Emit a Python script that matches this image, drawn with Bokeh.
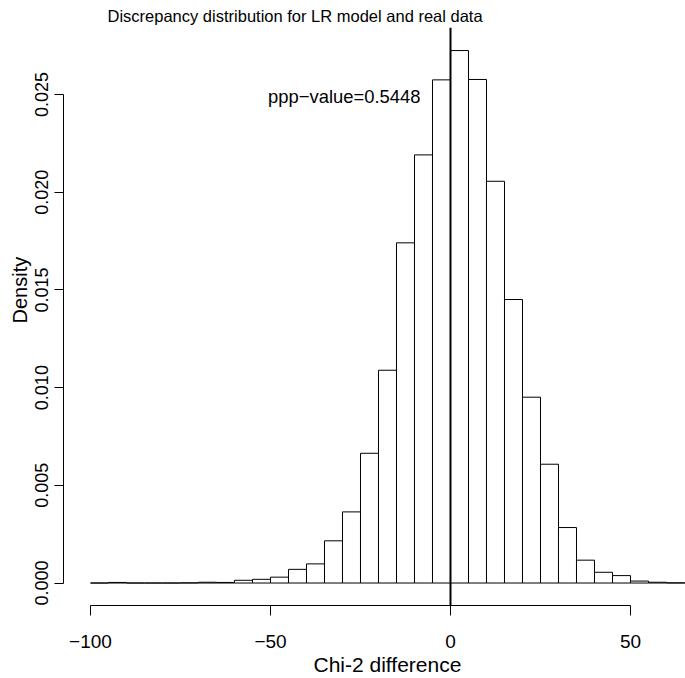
from bokeh.plotting import figure
from bokeh.models import Range1d, FixedTicker, Span, Label, Title, ColumnDataSource
from bokeh.embed import file_html
from bokeh.resources import INLINE

# Histogram bins (width 5) and density heights
bin_left = [-100, -95, -90, -85, -80, -75, -70, -65, -60, -55, -50, -45, -40, -35,
            -30, -25, -20, -15, -10, -5, 0, 5, 10, 15, 20, 25, 30, 35, 40, 45,
            50, 55, 60, 65]
density = [0.0, 0.00003, 0.0, 0.0, 0.0, 0.00001, 0.00004, 0.00003, 0.00014, 0.00019,
           0.00030, 0.00070, 0.00098, 0.00216, 0.00364, 0.00664, 0.01089, 0.01741,
           0.02191, 0.02575, 0.02725, 0.02577, 0.02056, 0.01451, 0.00951, 0.00608,
           0.00284, 0.00117, 0.00055, 0.00038, 0.00010, 0.00004, 0.00001, 0.0]
bin_width = 5

x_ticks = [-100, -50, 0, 50]
x_tick_labels = ["\u2212100", "\u221250", "0", "50"]
y_ticks = [0.0, 0.005, 0.010, 0.015, 0.020, 0.025]
y_tick_labels = ["0.000", "0.005", "0.010", "0.015", "0.020", "0.025"]

title_text = "Discrepancy distribution for LR model and real data"
x_label = "Chi-2 difference"
y_label = "Density"
ppp_text = "ppp\u2212value=0.5448"
vline_x = 0

FONT = "Liberation Sans"

src = ColumnDataSource(dict(
    left=bin_left,
    right=[b + bin_width for b in bin_left],
    top=density,
    bottom=[0.0] * len(bin_left),
))

p = figure(width=685, height=678, output_backend="svg", toolbar_location=None,
           x_range=Range1d(-107.5, 65.28), y_range=Range1d(-0.00115, 0.02843),
           min_border_left=63, min_border_right=0, min_border_top=27,
           min_border_bottom=73)
p.outline_line_color = None
p.xgrid.visible = False
p.ygrid.visible = False
p.background_fill_color = "white"
p.border_fill_color = "white"

p.quad(left="left", right="right", top="top", bottom="bottom", source=src,
       fill_color="white", line_color="black", line_width=1)

p.add_layout(Span(location=vline_x, dimension="height", line_color="black",
                  line_width=2))

# axes
xa = p.xaxis[0]
xa.ticker = FixedTicker(ticks=x_ticks)
xa.major_label_overrides = {t: l for t, l in zip(x_ticks, x_tick_labels)}
xa.bounds = (x_ticks[0], x_ticks[-1])
xa.minor_tick_line_color = None
xa.major_tick_in = 0
xa.major_tick_out = 10
xa.major_label_standoff = 19
xa.major_label_text_font = FONT
xa.major_label_text_font_size = "19px"
xa.major_label_text_color = "black"
xa.axis_line_color = "black"
xa.major_tick_line_color = "black"

ya = p.yaxis[0]
ya.ticker = FixedTicker(ticks=y_ticks)
ya.major_label_overrides = {t: l for t, l in zip(y_ticks, y_tick_labels)}
ya.bounds = (y_ticks[0], y_ticks[-1])
ya.minor_tick_line_color = None
ya.major_tick_in = 0
ya.major_tick_out = 9
ya.major_label_standoff = 6
ya.major_label_orientation = "vertical"
ya.major_label_text_font = FONT
ya.major_label_text_font_size = "18px"
ya.major_label_text_color = "black"
ya.axis_line_color = "black"
ya.major_tick_line_color = "black"

# texts
p.title = Title(text=title_text, align="left", offset=44, standoff=5,
                text_font=FONT, text_font_size="16.5px",
                text_font_style="normal", text_color="black")
p.add_layout(Title(text=x_label, align="left", offset=250, standoff=0,
                   text_font=FONT, text_font_size="21px",
                   text_font_style="normal", text_color="black"), "below")
p.add_layout(Title(text=y_label, align="left", offset=282, standoff=4,
                   text_font=FONT, text_font_size="20px",
                   text_font_style="normal", text_color="black"), "left")
p.add_layout(Label(x=-29.5, y=0.0249, text=ppp_text, text_font=FONT,
                   text_font_size="18.4px", text_align="center",
                   text_baseline="middle", text_color="black"))

open("out.html", "w").write(file_html(p, INLINE))
